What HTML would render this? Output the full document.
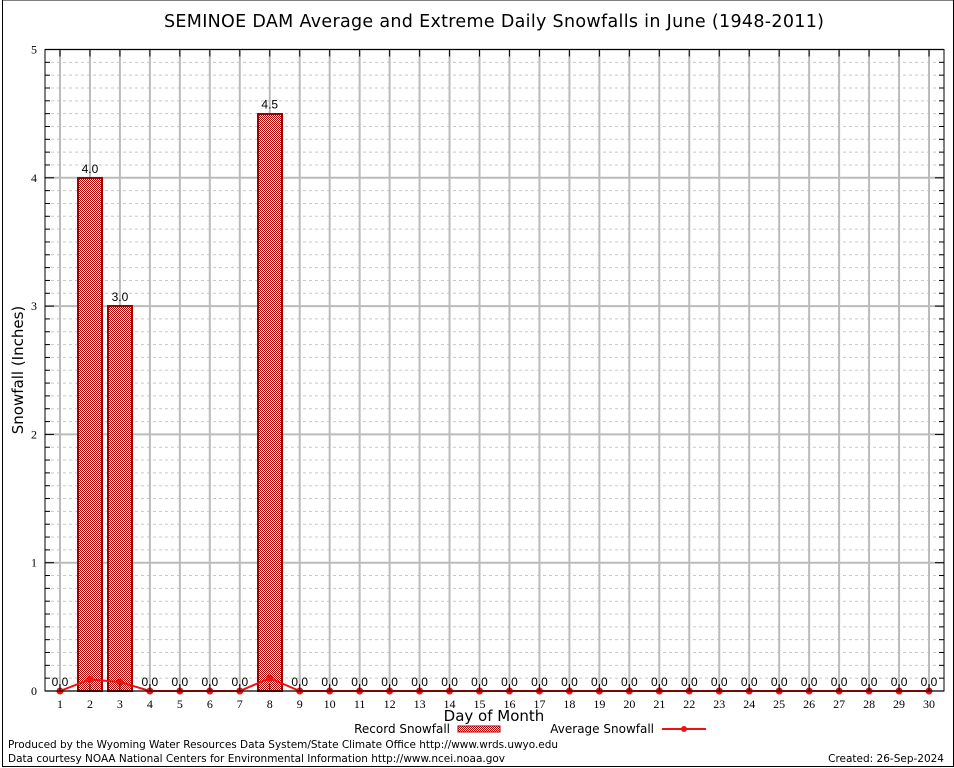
<!DOCTYPE html>
<html><head><meta charset="utf-8"><style>
html,body{margin:0;padding:0;background:#fff;}
svg{display:block;font-family:"DejaVu Sans","Liberation Sans",sans-serif;}
</style></head><body>
<svg id="chart" width="954" height="768" viewBox="0 0 954 768">
<defs>
<pattern id="hatch" x="0" y="0" width="2" height="2" patternUnits="userSpaceOnUse">
<rect width="2" height="2" fill="#fff"/>
<rect x="0" y="0" width="1" height="1" fill="#b00000"/>
<rect x="1" y="1" width="1" height="1" fill="#b00000"/>
</pattern>
</defs>
<rect x="2.5" y="0" width="951" height="766.5" fill="none" stroke="#000"/>
<text x="494" y="27" font-size="17.5" text-anchor="middle" textLength="660">SEMINOE DAM Average and Extreme Daily Snowfalls in June (1948-2011)</text>
<g id="grid"></g>
<g id="bars"></g>
<g id="avg"></g>
<g id="axes"></g>
<text transform="translate(23,370) rotate(-90)" font-size="15" text-anchor="middle">Snowfall (Inches)</text>
<text x="494" y="721" font-size="15" text-anchor="middle">Day of Month</text>
<g>
<g>
<text x="450" y="733" font-size="12" text-anchor="end">Record Snowfall</text>
<rect x="458" y="726" width="42" height="6" fill="url(#hatch)" stroke="#a00000"/>
</g>
<g>
<text x="654" y="733" font-size="12" text-anchor="end">Average Snowfall</text>
<line x1="662" y1="729" x2="706" y2="729" stroke="#ee1111" stroke-width="2"/>
<circle cx="684" cy="729" r="3" fill="#ee1111"/>
</g>
</g>
<text x="8" y="748" font-size="10.5" textLength="550">Produced by the Wyoming Water Resources Data System/State Climate Office http://www.wrds.uwyo.edu</text>
<text x="8" y="762" font-size="10.5" textLength="497">Data courtesy NOAA National Centers for Environmental Information http://www.ncei.noaa.gov</text>
<text x="944" y="762" font-size="10.5" text-anchor="end">Created:  26-Sep-2024</text>
</svg>
<script>
const days = [1,2,3,4,5,6,7,8,9,10,11,12,13,14,15,16,17,18,19,20,21,22,23,24,25,26,27,28,29,30];
const recordSnow = [0,4.0,3.0,0,0,0,0,4.5,0,0,0,0,0,0,0,0,0,0,0,0,0,0,0,0,0,0,0,0,0,0];
const avgSnow = [0,0.09,0.07,0,0,0,0,0.1,0,0,0,0,0,0,0,0,0,0,0,0,0,0,0,0,0,0,0,0,0,0];
const yTicks = [0,1,2,3,4,5];

const NS="http://www.w3.org/2000/svg";
const L=45,R=944,T=49.5,B=691;
const yMin=0,yMax=5;
function xS(d){return L+(d-0.5)*(R-L)/days.length;}
function yS(v){return B-(v-yMin)*(B-T)/(yMax-yMin);}
function mk(tag,attrs,parent){const e=document.createElementNS(NS,tag);for(const k in attrs)e.setAttribute(k,attrs[k]);parent.appendChild(e);return e;}
const grid=document.getElementById('grid'),bars=document.getElementById('bars'),avg=document.getElementById('avg'),axes=document.getElementById('axes');

for(let i=0;i<=50;i++){const v=i/10;if(i%10===0)continue;
 const l=mk('line',{x1:L,x2:R,y1:yS(v),y2:yS(v),stroke:'#c8c8c8','stroke-dasharray':'3,3','stroke-width':1},grid);
 
 mk('line',{x1:L,x2:L+5,y1:yS(v),y2:yS(v),stroke:'#000'},axes);
 mk('line',{x1:R-5,x2:R,y1:yS(v),y2:yS(v),stroke:'#000'},axes);
}
yTicks.forEach(v=>{
 const l=mk('line',{x1:L,x2:R,y1:yS(v),y2:yS(v),stroke:'#bbb','stroke-width':2},grid);
 
 mk('line',{x1:L,x2:L+9,y1:yS(v),y2:yS(v),stroke:'#000'},axes);
 mk('line',{x1:R-9,x2:R,y1:yS(v),y2:yS(v),stroke:'#000'},axes);
 const t=mk('text',{x:L-8,y:yS(v)+4,'font-size':12,'text-anchor':'end','font-family':'Liberation Serif, serif'},axes);
 t.textContent=v;
});
days.forEach(d=>{
 const x=xS(d);
 const l=mk('line',{x1:x,x2:x,y1:T,y2:B,stroke:'#bbb','stroke-width':2},grid);
 
 mk('line',{x1:x,x2:x,y1:T,y2:T+7,stroke:'#000'},axes);
 mk('line',{x1:x,x2:x,y1:B-7,y2:B,stroke:'#000'},axes);
 const t=mk('text',{x:x,y:B+17,'font-size':12,'text-anchor':'middle','font-family':'Liberation Serif, serif'},axes);
 t.textContent=d;
});
mk('rect',{x:L,y:T,width:R-L,height:B-T,fill:'none',stroke:'#000'},axes);

const bw=24;
days.forEach((d,i)=>{
 const v=recordSnow[i],x=xS(d);
 if(v>0){
  const r=mk('rect',{x:Math.round(x-bw/2),y:Math.round(yS(v)),width:bw,height:B-Math.round(yS(v)),fill:'url(#hatch)',stroke:'#a00000','stroke-width':2},bars);
  
 }
 const t=mk('text',{x:x,y:yS(v)-5,'font-size':12,'text-anchor':'middle','font-family':'Liberation Sans, sans-serif'},bars);
 t.textContent=v.toFixed(1);
});
const pts=days.map((d,i)=>xS(d)+','+yS(avgSnow[i])).join(' ');
const pl=mk('polyline',{points:pts,fill:'none',stroke:'#ee1111','stroke-width':2},avg);

days.forEach((d,i)=>{
 const c=mk('circle',{cx:xS(d),cy:yS(avgSnow[i]),r:3.5,fill:'#ee1111'},avg);
 
});
</script>
</body></html>
